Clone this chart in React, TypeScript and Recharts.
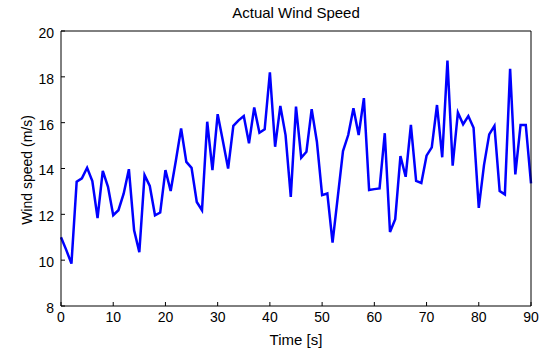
import React from 'react';
import { LineChart, Line, XAxis, YAxis } from 'recharts';

const timeSeconds = [
  0, 1, 2, 3, 4, 5, 6, 7, 8, 9,
  10, 11, 12, 13, 14, 15, 16, 17, 18, 19,
  20, 21, 22, 23, 24, 25, 26, 27, 28, 29,
  30, 31, 32, 33, 34, 35, 36, 37, 38, 39,
  40, 41, 42, 43, 44, 45, 46, 47, 48, 49,
  50, 51, 52, 53, 54, 55, 56, 57, 58, 59,
  60, 61, 62, 63, 64, 65, 66, 67, 68, 69,
  70, 71, 72, 73, 74, 75, 76, 77, 78, 79,
  80, 81, 82, 83, 84, 85, 86, 87, 88, 89,
  90,
];

const windSpeed = [
  11.0, 10.45, 9.85, 13.42, 13.57, 14.03, 13.45, 11.84, 13.9, 13.2,
  11.96, 12.18, 12.9, 13.97, 11.3, 10.35, 13.71, 13.24, 11.96, 12.08,
  13.93, 13.02, 14.35, 15.75, 14.29, 14.03, 12.54, 12.18, 16.04, 13.93,
  16.37, 15.2, 14.0, 15.86, 16.1, 16.29, 15.1, 16.66, 15.56, 15.71,
  18.2, 14.95, 16.73, 15.46, 12.76, 16.7, 14.47, 14.73, 16.59, 15.17,
  12.84, 12.91, 10.77, 12.76, 14.76, 15.46, 16.63, 15.46, 17.07, 13.06,
  13.1, 13.13, 15.54, 11.23, 11.79, 14.54, 13.64, 15.9, 13.46, 13.37,
  14.56, 14.92, 16.77, 14.49, 18.71, 14.12, 16.44, 15.93, 16.29, 15.78,
  12.28, 14.15, 15.49, 15.86, 13.02, 12.87, 18.35, 13.74, 15.9, 15.9,
  13.35,
];

const xTicks = [0, 10, 20, 30, 40, 50, 60, 70, 80, 90];
const yTicks = [8, 10, 12, 14, 16, 18, 20];

const titleText = 'Actual Wind Speed';
const xLabelText = 'Time [s]';
const yLabelText = 'Wind speed (m/s)';

const data = timeSeconds.map((t, i) => ({ t, v: windSpeed[i] }));

const FONT = '"Liberation Sans", Arial, Helvetica, sans-serif';

export default function App() {
  const tickStyle = { fill: '#000', fontSize: 14, fontFamily: FONT };
  return (
    <div style={{ position: 'absolute', left: 0, top: 0, width: 539, height: 350, background: '#fff' }}>
      <LineChart
        width={539}
        height={350}
        data={data}
        margin={{ top: 30, right: 7, bottom: 14, left: 21 }}
      >
        <XAxis
          xAxisId="bottom"
          dataKey="t"
          type="number"
          domain={[0, 90]}
          ticks={xTicks}
          height={30}
          stroke="#000"
          tickSize={-4}
          tickMargin={10}
          tick={tickStyle}
          interval={0}
        />
        <XAxis
          xAxisId="top"
          orientation="top"
          dataKey="t"
          type="number"
          domain={[0, 90]}
          ticks={xTicks}
          height={1}
          stroke="#000"
          tickSize={-4}
          tick={false}
          interval={0}
        />
        <YAxis
          yAxisId="left"
          type="number"
          domain={[8, 20]}
          ticks={yTicks}
          width={40}
          stroke="#000"
          tickSize={-4}
          tickMargin={11}
          tick={{ ...tickStyle, dy: 2 }}
          interval={0}
        />
        <YAxis
          yAxisId="right"
          orientation="right"
          type="number"
          domain={[8, 20]}
          ticks={yTicks}
          width={1}
          stroke="#000"
          tickSize={-4}
          tick={false}
          interval={0}
        />
        <Line
          xAxisId="bottom"
          yAxisId="left"
          dataKey="v"
          type="linear"
          stroke="#0000ff"
          strokeWidth={2.5}
          dot={false}
          activeDot={false}
          isAnimationActive={false}
        />
      </LineChart>
      <svg
        width={539}
        height={350}
        style={{ position: 'absolute', left: 0, top: 0, pointerEvents: 'none' }}
      >
        <text x={296} y={18} textAnchor="middle" fontSize={15} fontFamily={FONT} fill="#000">
          {titleText}
        </text>
        <text x={296} y={345} textAnchor="middle" fontSize={15} fontFamily={FONT} fill="#000">
          {xLabelText}
        </text>
        <text
          x={0}
          y={0}
          transform="translate(32,170) rotate(-90)"
          textAnchor="middle"
          fontSize={14}
          fontFamily={FONT}
          fill="#000"
        >
          {yLabelText}
        </text>
      </svg>
    </div>
  );
}
